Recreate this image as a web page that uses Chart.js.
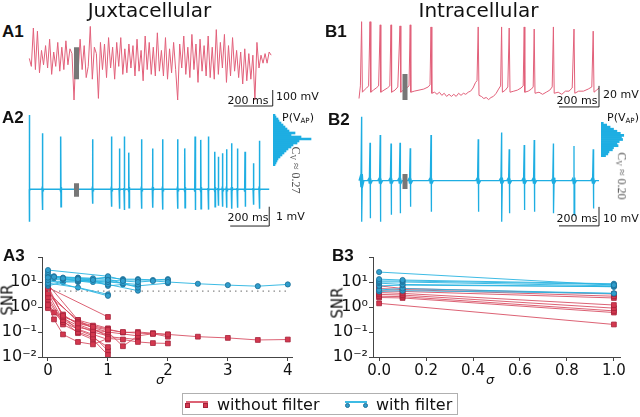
<!DOCTYPE html>
<html><head><meta charset="utf-8">
<script src="https://cdn.jsdelivr.net/npm/chart.js@4/dist/chart.umd.min.js"></script>
<style>
html,body{margin:0;padding:0;background:#fff;}
#root{position:relative;width:640px;height:417px;overflow:hidden;font-family:"DejaVu Sans",sans-serif;color:#111;}
canvas{position:absolute;}
.t{position:absolute;white-space:nowrap;line-height:1;}
.c{transform:translate(-50%,-50%);}
.lv{transform:translate(0,-50%);}
.lab{font-family:"Liberation Sans",Arial,sans-serif;font-weight:bold;font-size:17px;}
.sb{font-size:11px;}
.cv{font-family:"Liberation Serif","DejaVu Serif",serif;font-size:12px;color:#555;transform:translate(-50%,-50%) rotate(90deg);}
.snr{font-size:15px;transform:translate(-50%,-50%) rotate(-90deg);}
.sig{font-size:13px;font-style:italic;}
sub{font-size:0.65em;vertical-align:-0.25em;}
.lg{position:absolute;}
</style></head>
<body><div id="root"></div>
<script>
// ---------------- DATA ----------------
// A1 juxtacellular raw trace (mV, evenly sampled over A1_DURATION ms)
const A1_DURATION = 1240;
const A1_VALUES = [10,-40,200,-60,180,-80,60,-30,90,-50,
 130,-90,50,-40,110,-70,80,-60,120,-30,
 70,40,-250,60,-80,130,-60,90,-110,-40,
 210,-120,80,40,-240,110,-60,100,-110,140,
 -50,80,-120,110,-40,140,-90,70,-80,100,
 -50,90,-100,130,-70,60,-130,150,-60,110,
 -90,80,-100,170,-70,60,-100,140,-120,70,
 -80,110,-60,-250,100,-50,150,-90,80,-110,
 160,-60,100,-140,130,-70,90,-100,150,-110,
 80,-120,190,-90,110,-50,160,-140,90,-100,
 140,-70,60,-110,50,-150,70,-130,40,-120,
 30,-250,110,-50,30,-20,40,-20,50,30];
const A1_MARK = [[242,80],[242,-120]];
const A1_SCALE_T = [[1048,-287.5],[1248,-287.5],[1248,-187.5]];

// A2 filtered juxtacellular trace: spike times (ms), upward and downward amplitudes (mV)
const A2_DURATION = 1230;
const A2_SPIKE_T = [0,68,162,325,422,462,487,511,576,633,684,761,798,850,880,918,952,969,991,1012,1038,1067,1106,1149,1180];
const A2_UP = [3.85,2.9,2.73,2.59,2.73,2.12,2.73,1.9,2.59,2.12,2.59,2.59,2.12,2.73,2.56,2.73,1.95,1.69,1.87,2.07,2.38,2.12,1.95,1.35,2.52];
const A2_DOWN = [1.68,1.07,0.9,0.75,0.9,1.0,1.07,0.95,1.0,0.95,1.05,1.0,0.95,1.07,1.0,1.05,0.9,0.85,0.9,0.95,1.0,0.95,0.9,0.8,1.0];
const A2_MARK = [[242,0.31],[242,-0.38]];
const A2_SCALE_T = [[1030,-1.9],[1230,-1.9],[1230,-0.9]];
const A2_HIST = [2,3,5,6,8,10,12,14,16,22,18,28,38,26,24,20,18,15,13,11,9,7,5,4,3,2];

// B1 intracellular trace: [time ms, mV]
const B1_POINTS = [[0,-75],[7,-63],[13,-2],[17,-69],[26,-67],[38,-65],[48,-63],[55,-2],[59,-69],[72,-67],[86,-65],[98,-63],[106,-5],[109,-69],[125,-67],[142,-65],[154,-63],[160,-5],[163,-69],[180,-67],[194,-64],[205,-6],[209,-69],[222,-67],[238,-65],[250,-63],[256,-5],[259,-69],[276,-68],[300,-67],[324,-66],[346,-64],[355,-62],[360,-7],[364,-70],[378,-69],[390,-71],[402,-69],[414,-72],[426,-70],[438,-73],[450,-71],[462,-73],[474,-71],[486,-73],[498,-70],[510,-72],[522,-70],[534,-71],[546,-69],[558,-68],[570,-65],[582,-60],[590,-58],[596,-7],[600,-72],[612,-73],[624,-75],[636,-74],[648,-76],[660,-74],[672,-73],[686,-70],[698,-66],[708,-63],[713,-7],[717,-69],[732,-67],[744,-64],[751,-8],[755,-69],[774,-68],[792,-67],[810,-65],[821,-63],[826,-7],[829,-69],[846,-68],[862,-66],[871,-64],[876,-9],[880,-70],[900,-69],[918,-71],[936,-69],[954,-67],[966,-64],[972,-7],[976,-70],[996,-69],[1014,-71],[1032,-68],[1050,-68],[1066,-65],[1075,-9],[1079,-70],[1098,-68],[1122,-68],[1146,-66],[1164,-64],[1171,-11],[1175,-69],[1188,-67],[1200,-65]];
const B1_MARK = [[230,-51.7],[230,-76.4]];
const B1_SCALE_T = [[1000,-83],[1200,-83],[1200,-63]];

// B2 filtered intracellular trace
const B2_DURATION = 1200;
const B2_SPIKE_T = [13,55,106,160,205,256,360,596,713,751,826,876,972,1075,1171];
const B2_UP = [33.7,20,24,19.6,20,17,24,21.8,25.3,16.5,18.8,21.4,19.6,18.2,16.5];
const B2_DOWN = [21.6,19.8,21.6,18,17.2,13.7,16.3,16.3,21.6,17.2,15.4,16.3,17.2,18,14.6];
const B2_BLOB = [3.5,1.6,1.6,1.6,1.6,1.6,1.6,1.6,1.6,1.6,1.6,1.6,1.6,1.6,1.6];
const B2_MARK = [[230,3.5],[230,-4.4]];
const B2_SCALE_T = [[1000,-23.8],[1200,-23.8],[1200,-13.8]];
const B2_HIST = [2,5,8,11,14,17,20,18,19,16,14,15,11,10,7,6,4];

// A3: SNR vs sigma (juxtacellular)
const A3_WITHOUT = [
 [[0,5.5],[0.25,0.45],[0.5,0.22],[0.75,0.16],[1,0.12],[1.25,0.1],[1.5,0.09],[1.75,0.085],[2,0.08],[2.5,0.065],[3,0.058],[3.5,0.048],[4,0.05]],
 [[0,7],[0.25,0.4],[0.5,0.25],[0.75,0.18],[1,0.13],[1.25,0.095],[1.5,0.1],[1.75,0.09],[2,0.08]],
 [[0,3.5],[0.25,0.3],[0.5,0.15],[0.75,0.12],[1,0.1],[1.25,0.027],[1.5,0.07],[1.75,0.085],[2,0.065]],
 [[0,1.2],[0.1,0.32],[0.25,0.08],[0.5,0.04],[0.75,0.032],[1,0.055],[1.25,0.05],[1.5,0.04],[1.75,0.036],[2,0.035]],
 [[0,6],[1,0.4]],
 [[0,4.5],[0.25,0.5],[0.5,0.2],[0.75,0.12],[1,0.08]],
 [[0,2.5],[0.25,0.25],[0.5,0.13],[0.75,0.08],[1,0.05]],
 [[0,2],[0.25,0.2],[0.5,0.1],[0.75,0.06],[1,0.025]],
 [[0,1.5],[0.1,0.6],[0.25,0.35],[0.5,0.18],[0.75,0.1],[1,0.07]],
 [[0,0.9],[0.25,0.28],[0.5,0.09],[0.75,0.05],[1,0.012]],
 [[0,3],[0.5,0.3],[1,0.14]],
 [[0,1],[0.25,0.4],[0.5,0.12],[0.75,0.07],[1,0.018]],
 [[0,4],[0.5,0.25],[0.75,0.15],[1,0.1],[1.5,0.07]],
 [[0,8],[0.5,0.3],[1,0.065],[1.5,0.05]]
];
const A3_WITH = [
 [[0,15],[0.1,16],[0.25,14],[0.5,13],[0.75,12],[1,12],[1.25,11],[1.5,10],[1.75,11],[2,10],[2.5,8.5],[3,7.5],[3.5,6.8],[4,8]],
 [[0,30],[1,17],[1.25,12],[1.5,12],[2,12]],
 [[0,25],[0.1,17],[0.25,15],[0.5,14],[0.75,14],[1,15],[1.25,13],[1.5,13],[1.75,12],[2,13]],
 [[0,20],[0.25,13],[0.5,12],[1,10],[1.5,8]],
 [[0,12],[1,2.8]],
 [[0,9],[0.5,6],[1,3.2]],
 [[0,17],[0.5,15],[1,13],[1.5,6]],
 [[0,10],[0.5,11],[1,8],[1.5,4.5]],
 [[0,13],[0.25,12],[0.5,12],[0.75,10],[1,9]],
 [[0,8],[0.1,14],[0.5,11],[1,11],[1.25,9]],
 [[0,18],[0.5,14],[0.75,12],[1,7],[1.25,8],[1.5,7],[2,9]],
 [[0,7],[0.25,10],[0.5,10],[1,16]]
];
const A3_THRESHOLD = [[0,4.3],[4,4.3]];

// B3: SNR vs sigma (intracellular)
const B3_WITHOUT = [
 [[0,7],[0.1,5.5],[1,3.3]],
 [[0,5.5],[0.1,5],[1,2.7]],
 [[0,4.5],[0.1,4.2],[1,2.3]],
 [[0,3.8],[0.1,3.5],[1,1.2]],
 [[0,3.2],[0.1,3],[1,0.9]],
 [[0,2.7],[0.1,2.6],[1,0.7]],
 [[0,2.4],[0.1,2.3],[1,0.6]],
 [[0,1.4],[1,0.2]]
];
const B3_WITH = [
 [[0,25],[1,7.5]],
 [[0,13],[0.1,12],[1,8.5]],
 [[0,11],[0.1,11],[1,8]],
 [[0,10],[0.1,10],[1,7]],
 [[0,9],[0.1,8],[1,6.5]],
 [[0,7],[0.1,7.5],[1,6.5]],
 [[0,4.8],[0.1,5.5],[1,3.5]],
 [[0,4.2],[0.1,4.5],[1,3.5]]
];
const Y_TICKS = [0.01,0.1,1,10,100];
const Y_TICK_LABELS = ['10\u207B\u00B2','10\u207B\u00B9','10\u2070','10\u00B9',''];
const A3_X_TICKS = [0,1,2,3,4];
const B3_X_TICKS = [0,0.2,0.4,0.6,0.8,1.0];

// ---------------- STYLE ----------------
const RED_TRACE = '#e2607a';
const BLUE_TRACE = '#1eaee2';
const GRAY = '#777777';
const RED_LINE = 'rgba(214,70,92,0.85)';
const RED_MARK = '#d4384f';
const RED_EDGE = '#a5223a';
const BLUE_LINE = 'rgba(40,180,225,0.9)';
const BLUE_MARK = '#2f9dcc';
const BLUE_EDGE = '#1c6d96';
const AXIS = '#444';

Chart.defaults.font.family = '"DejaVu Sans", sans-serif';
const root = document.getElementById('root');

function mk(left, top, w, h, config){
  const c = document.createElement('canvas');
  c.width = w; c.height = h;
  c.style.left = left + 'px'; c.style.top = top + 'px';
  c.style.width = w + 'px'; c.style.height = h + 'px';
  root.appendChild(c);
  config.options.responsive = false;
  config.options.animation = false;
  config.options.devicePixelRatio = 1;
  config.options.events = [];
  config.options.plugins = Object.assign({legend:{display:false}, tooltip:{enabled:false}}, config.options.plugins || {});
  return new Chart(c.getContext('2d'), config);
}
function lineDs(points, color, width, extra){
  return Object.assign({data: points.map(p => ({x:p[0], y:p[1]})), borderColor: color, borderWidth: width,
    pointRadius: 0, fill: false, tension: 0}, extra || {});
}
function traceChart(left, top, w, h, xr, yr, datasets){
  return mk(left, top, w, h, {type:'line', data:{datasets}, options:{
    layout:{padding:0},
    scales:{x:{type:'linear', display:false, min:xr[0], max:xr[1]}, y:{type:'linear', display:false, min:yr[0], max:yr[1]}}
  }});
}
function spikeTrace(duration, times, up, down, blob){
  const pts = [[0,0]];
  times.forEach((t, i) => {
    const b = blob ? blob[i] : 0.12;
    const w = blob ? 12 : 4;
    pts.push([t - w, 0], [t - w*0.6, b*0.6], [t - w*0.3, -b], [t, up[i]], [t + 0.5, -down[i]], [t + w*0.3, b], [t + w*0.6, -b*0.6], [t + w, 0]);
  });
  pts.push([duration, 0]);
  return pts.filter(p => p[0] >= 0 && p[0] <= duration).sort((a,b)=>a[0]-b[0]);
}
function histChart(left, top, w, h, values, xmax){
  return mk(left, top, w, h, {type:'bar', data:{labels: values.map((_, i) => i), datasets:[{data: values,
    backgroundColor: BLUE_TRACE, borderWidth: 0, barPercentage: 1, categoryPercentage: 1}]},
    options:{indexAxis:'y', layout:{padding:0}, scales:{x:{display:false, min:0, max:xmax}, y:{display:false}}}});
}

// ---------------- TRACES ----------------
const a1pts = A1_VALUES.map((v, i) => [i * A1_DURATION / (A1_VALUES.length - 1), v]);
traceChart(28, 18, 250, 94, [-6.7, 1275], [-325, 262.5], [
  lineDs(A1_MARK, GRAY, 5),
  lineDs(A1_SCALE_T, '#222', 1),
  lineDs(a1pts, RED_TRACE, 1)
]);
traceChart(28, 108, 250, 125, [-6.7, 1275], [-2.26, 4.21], [
  lineDs(A2_MARK, GRAY, 5),
  lineDs(A2_SCALE_T, '#222', 1),
  lineDs(spikeTrace(A2_DURATION, A2_SPIKE_T, A2_UP, A2_DOWN), BLUE_TRACE, 1.5)
]);
histChart(273, 114, 40, 52, A2_HIST, 40);

traceChart(355, 15, 285, 100, [-20, 1405], [-90.65, 4.35], [
  lineDs(B1_MARK, GRAY, 5),
  lineDs(B1_SCALE_T, '#222', 1),
  lineDs(B1_POINTS, RED_TRACE, 1)
]);
traceChart(355, 110, 285, 125, [-20, 1405], [-28.6, 37.2], [
  lineDs(B2_MARK, GRAY, 5),
  lineDs(B2_SCALE_T, '#222', 1),
  lineDs(spikeTrace(B2_DURATION, B2_SPIKE_T, B2_UP, B2_DOWN, B2_BLOB), BLUE_TRACE, 1.3)
]);
histChart(601, 122, 25, 35, B2_HIST, 22);

// ---------------- SNR PANELS ----------------
function snrDatasets(withS, withoutS, threshold){
  const out = [];
  withS.forEach(s => out.push(lineDs(s, BLUE_LINE, 1, {pointRadius: 2.6, pointStyle: 'circle',
    pointBackgroundColor: BLUE_MARK, pointBorderColor: BLUE_EDGE, pointBorderWidth: 0.8})));
  if (threshold) out.push(lineDs(threshold, '#888', 1.2, {borderDash:[1.5, 4]}));
  withoutS.forEach(s => out.push(lineDs(s, RED_LINE, 1, {pointRadius: 3.4, pointStyle: 'rect',
    pointBackgroundColor: RED_MARK, pointBorderColor: RED_EDGE, pointBorderWidth: 0.8})));
  return out;
}
function snrChart(left, top, w, h, axisW, padR, xr, xticks, xfmt, datasets){
  return mk(left, top, w, h, {type:'line', data:{datasets}, options:{
    layout:{padding:{top: 257 - top, right: padR, left: 0, bottom: 0}},
    scales:{
      x:{type:'linear', min:xr[0], max:xr[1],
        afterBuildTicks: s => { s.ticks = xticks.map(v => ({value: v})); },
        afterFit: s => { s.height = top + h - 357; },
        ticks:{callback: xfmt, font:{size:15}, color:'#111', padding:1, maxRotation:0, autoSkip:false},
        grid:{display:true, drawOnChartArea:false, drawTicks:true, tickLength:4, color:AXIS},
        border:{display:true, color:AXIS, width:1}},
      y:{type:'logarithmic', min:0.01, max:100,
        afterBuildTicks: s => { s.ticks = Y_TICKS.map(v => ({value: v, major: true})); },
        afterFit: s => { s.width = axisW; },
        ticks:{callback: (v) => { const i = Y_TICKS.findIndex(t => Math.abs(t - v) / t < 1e-6); return i >= 0 ? Y_TICK_LABELS[i] : ''; },
          font:{size:16}, color:'#111', padding:1, autoSkip:false},
        grid:{display:true, drawOnChartArea:false, drawTicks:true, tickLength:4, color:AXIS},
        border:{display:true, color:AXIS, width:1}}
    }
  }});
}
snrChart(0, 245, 300, 140, 42, 8, [-0.1, 4.07], A3_X_TICKS, v => String(v), snrDatasets(A3_WITH, A3_WITHOUT, A3_THRESHOLD));
snrChart(320, 245, 320, 140, 53, 20, [-0.026, 1.026], B3_X_TICKS, v => v.toFixed(1), snrDatasets(B3_WITH, B3_WITHOUT, null));

// ---------------- TEXT ----------------
function txt(html, cls, x, y){
  const d = document.createElement('div');
  d.className = 't ' + cls; d.innerHTML = html;
  d.style.left = x + 'px'; d.style.top = y + 'px';
  root.appendChild(d); return d;
}
txt('Juxtacellular', 'c', 149.5, 10).style.fontSize = '20px';
txt('Intracellular', 'c', 478.5, 10).style.fontSize = '20px';
txt('A1', 'lab lv', 2, 31); txt('B1', 'lab lv', 325, 31);
txt('A2', 'lab lv', 2, 117); txt('B2', 'lab lv', 328, 119);
txt('A3', 'lab lv', 3, 255); txt('B3', 'lab lv', 332, 255);
txt('200 ms', 'sb c', 248, 100); txt('100 mV', 'sb lv', 276, 96);
txt('200 ms', 'sb c', 248, 217); txt('1 mV', 'sb lv', 276, 216);
txt('200 ms', 'sb c', 577, 100); txt('20 mV', 'sb lv', 603, 94);
txt('200 ms', 'sb c', 577, 218); txt('10 mV', 'sb lv', 603, 218);
txt('P(V<sub>AP</sub>)', 'sb lv', 282, 118); txt('P(V<sub>AP</sub>)', 'sb lv', 607, 118);
txt('C<sub>V</sub> \u2248 0.27', 'cv', 295, 170); txt('C<sub>V</sub> \u2248 0.20', 'cv', 621, 176);
txt('SNR', 'snr', 8, 300); txt('SNR', 'snr', 338, 303);
txt('\u03C3', 'sig c', 160, 379); txt('\u03C3', 'sig c', 490, 379);

// legend
function box(x, y, w, h, css){ const d = document.createElement('div'); d.className = 'lg';
  Object.assign(d.style, {left:x+'px', top:y+'px', width:w+'px', height:h+'px'}, css); root.appendChild(d); return d; }
box(182, 393, 276, 22, {border:'1px solid #b0b0b0', boxSizing:'border-box'});
box(186, 401, 22, 1.5, {background: RED_LINE});
box(185, 403, 5, 5, {background: RED_MARK, border:'0.8px solid ' + RED_EDGE, boxSizing:'border-box'});
box(203, 403, 5, 5, {background: RED_MARK, border:'0.8px solid ' + RED_EDGE, boxSizing:'border-box'});
txt('without filter', 'lv', 217, 405).style.fontSize = '16px';
box(345, 401, 22, 1.5, {background: BLUE_LINE});
box(344.5, 402.5, 5, 5, {background: BLUE_MARK, borderRadius:'50%', border:'0.8px solid ' + BLUE_EDGE, boxSizing:'border-box'});
box(362.5, 402.5, 5, 5, {background: BLUE_MARK, borderRadius:'50%', border:'0.8px solid ' + BLUE_EDGE, boxSizing:'border-box'});
txt('with filter', 'lv', 376, 405).style.fontSize = '16px';
</script>
</body></html>
